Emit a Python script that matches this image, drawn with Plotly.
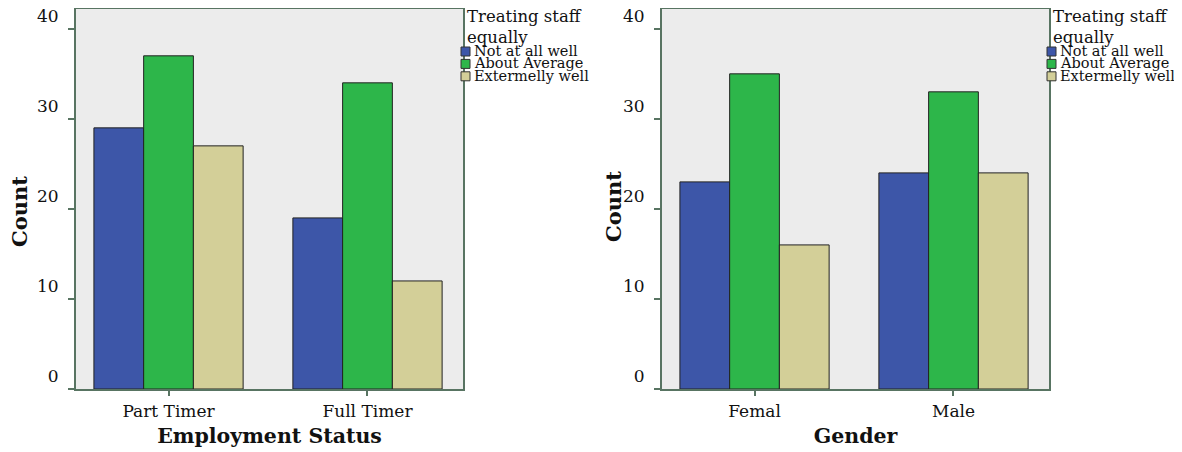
import plotly.graph_objects as go

series_names = ["Not at all well", "About Average", "Extermelly well"]
colors = ["#3d56a8", "#2db64a", "#d3cf98"]

emp_categories = ["Part Timer", "Full Timer"]
emp_not_well = [29, 19]
emp_average = [37, 34]
emp_extreme = [27, 12]

gen_categories = ["Femal", "Male"]
gen_not_well = [23, 24]
gen_average = [35, 33]
gen_extreme = [16, 24]

y_ticks = [0, 10, 20, 30, 40]
legend_title = "Treating staff<br>equally"
y_title = "Count"

FONT = "DejaVu Serif"
FRAME = "#587462"
W, H = 1182, 452
OFF = 8  # page body margin

fig = go.Figure()

def add_panel(cats, vals, xa, ya):
    for name, v, c in zip(series_names, vals, colors):
        fig.add_trace(go.Bar(
            x=cats, y=v, name=name, marker=dict(color=c, line=dict(color="#222222", width=1)),
            xaxis=xa, yaxis=ya, showlegend=False))

add_panel(emp_categories, [emp_not_well, emp_average, emp_extreme], "x", "y")
add_panel(gen_categories, [gen_not_well, gen_average, gen_extreme], "x2", "y2")

def px_x(x):
    return (x - OFF) / W

def px_y(y):
    return 1 - (y - OFF) / H

ydom = [px_y(389), px_y(9)]
xdom1 = [px_x(76), px_x(463)]
xdom2 = [px_x(662), px_x(1049)]

common_x = dict(range=[-0.465, 1.48], showline=True, linecolor=FRAME, linewidth=2, mirror=True,
                ticks="outside", ticklen=5, tickcolor=FRAME, tickwidth=2, automargin=False,
                tickfont=dict(family=FONT, size=17, color="#111"), showgrid=False,
                ticklabelstandoff=1)
common_y = dict(range=[0, 42.2], tickvals=y_ticks, showline=True, linecolor=FRAME, linewidth=2,
                mirror=True, ticks="outside", ticklen=6, tickcolor=FRAME, tickwidth=2,
                automargin=False,
                tickfont=dict(family=FONT, size=17, color="#111"), showgrid=False, zeroline=False,
                ticklabelposition="outside top", ticklabelstandoff=12, ticklabeloverflow="allow")

title_font = dict(family=FONT, size=20.5, color="#111")
fig.update_layout(
    width=W, height=H, margin=dict(l=0, r=0, t=0, b=0),
    paper_bgcolor="white", plot_bgcolor="#ececec",
    barmode="group", bargap=0.25, bargroupgap=0,
    xaxis=dict(domain=xdom1, anchor="y",
               title=dict(text="<b>Employment Status</b>", font=title_font, standoff=8),
               **common_x),
    yaxis=dict(domain=ydom, anchor="x", **common_y),
    xaxis2=dict(domain=xdom2, anchor="y2",
                title=dict(text="<b>Gender</b>", font=title_font, standoff=8),
                **common_x),
    yaxis2=dict(domain=ydom, anchor="x2", **common_y),
)

# rotated y-axis titles
for xc, yc in [(19, 212), (614, 207)]:
    fig.add_annotation(xref="paper", yref="paper", x=px_x(xc), y=px_y(yc),
                       xanchor="center", yanchor="middle", showarrow=False, textangle=-90,
                       text="<b>" + y_title + "</b>", font=dict(family=FONT, size=21, color="#111"))

# legends (annotations + swatches) to the right of each panel
def add_legend(sw_left):
    fig.add_annotation(xref="paper", yref="paper", x=px_x(sw_left + 4), y=px_y(5),
                       xanchor="left", yanchor="top", align="left", showarrow=False,
                       text=legend_title, font=dict(family=FONT, size=16.5, color="#111"))
    for i, (name, c) in enumerate(zip(series_names, colors)):
        cy = 51 + i * 12.4
        fig.add_shape(type="rect", xref="paper", yref="paper",
                      x0=px_x(sw_left), x1=px_x(sw_left + 9),
                      y0=px_y(cy + 5), y1=px_y(cy - 4),
                      fillcolor=c, line=dict(color="#333", width=1))
        fig.add_annotation(xref="paper", yref="paper", x=px_x(sw_left + 11), y=px_y(cy),
                           xanchor="left", yanchor="middle", showarrow=False,
                           text=name, font=dict(family=FONT, size=14.5, color="#111"))

add_legend(461)
add_legend(1047)

fig.write_html("out.html")
